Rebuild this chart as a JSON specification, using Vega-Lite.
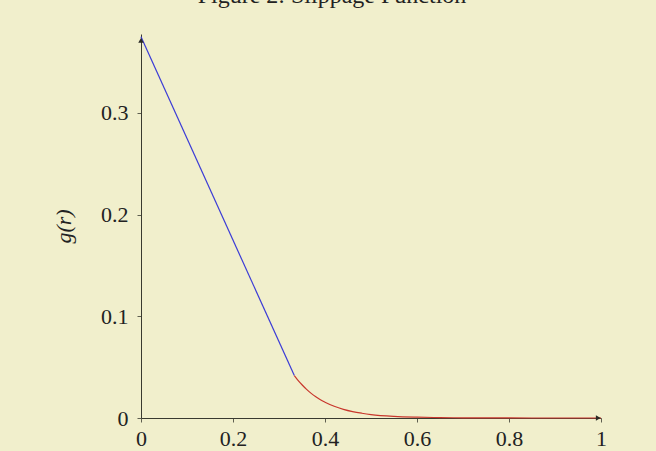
{
  "$schema": "https://vega.github.io/schema/vega-lite/v6.json",
  "width": 460,
  "height": 384,
  "autosize": {"type": "none"},
  "padding": {"left": 141, "top": 34, "right": 55, "bottom": 33},
  "background": "#f1efcc",
  "title": {
    "text": "Figure 2: Slippage Function",
    "font": "Liberation Serif",
    "fontSize": 24,
    "fontWeight": "normal",
    "color": "#222222",
    "anchor": "middle",
    "dx": -39,
    "offset": 7,
    "baseline": "alphabetic",
    "frame": "group"
  },
  "config": {
    "view": {"stroke": null},
    "axis": {
      "grid": false,
      "domainColor": "#3a3a30",
      "tickColor": "#3a3a30",
      "domainWidth": 1,
      "tickWidth": 0.8,
      "tickSize": 4,
      "labelFlush": false,
      "labelFont": "Liberation Serif",
      "labelFontSize": 22,
      "labelColor": "#222222",
      "titleFont": "Liberation Serif",
      "titleFontSize": 22,
      "titleFontWeight": "normal",
      "titleColor": "#222222"
    }
  },
  "layer": [
    {
      "data": {
        "values": [
          {"r": 0, "g": 0.375, "part": "linear"},
          {"r": 0.3333, "g": 0.0417, "part": "linear"},
          {"r": 0.3333, "g": 0.0417, "part": "exp"},
          {"r": 0.34, "g": 0.0378, "part": "exp"},
          {"r": 0.35, "g": 0.0327, "part": "exp"},
          {"r": 0.36, "g": 0.0281, "part": "exp"},
          {"r": 0.37, "g": 0.0242, "part": "exp"},
          {"r": 0.38, "g": 0.0209, "part": "exp"},
          {"r": 0.39, "g": 0.0179, "part": "exp"},
          {"r": 0.40, "g": 0.0155, "part": "exp"},
          {"r": 0.42, "g": 0.0115, "part": "exp"},
          {"r": 0.44, "g": 0.0085, "part": "exp"},
          {"r": 0.46, "g": 0.0063, "part": "exp"},
          {"r": 0.48, "g": 0.0047, "part": "exp"},
          {"r": 0.50, "g": 0.0034, "part": "exp"},
          {"r": 0.55, "g": 0.0016, "part": "exp"},
          {"r": 0.60, "g": 0.0008, "part": "exp"},
          {"r": 0.65, "g": 0.0004, "part": "exp"},
          {"r": 0.70, "g": 0.0002, "part": "exp"},
          {"r": 0.80, "g": 0.00004, "part": "exp"},
          {"r": 0.90, "g": 0.00001, "part": "exp"},
          {"r": 1.0, "g": 0, "part": "exp"}
        ]
      },
      "mark": {"type": "line", "strokeWidth": 1.2, "interpolate": "monotone"},
      "encoding": {
        "x": {
          "field": "r",
          "type": "quantitative",
          "scale": {"domain": [0, 1], "nice": false},
          "axis": {"values": [0, 0.2, 0.4, 0.6, 0.8, 1], "format": "~g", "title": null, "labelPadding": 6}
        },
        "y": {
          "field": "g",
          "type": "quantitative",
          "scale": {"domain": [0, 0.3777], "nice": false},
          "axis": {"values": [0, 0.1, 0.2, 0.3], "format": "~g", "title": "g(r)", "titleFontStyle": "italic", "labelPadding": 9, "titlePadding": 25}
        },
        "color": {
          "field": "part",
          "type": "nominal",
          "scale": {"domain": ["linear", "exp"], "range": ["#3b3bd6", "#c8372d"]},
          "legend": null
        },
        "order": {"field": "r", "type": "quantitative"}
      }
    },
    {
      "data": {
        "values": [
          {"r": 0, "g": 0.3715, "shape": "up"},
          {"r": 0.994, "g": 0, "shape": "right"}
        ]
      },
      "mark": {"type": "point", "filled": true, "size": 30, "opacity": 1, "color": "#2a2a25"},
      "encoding": {
        "x": {"field": "r", "type": "quantitative"},
        "y": {"field": "g", "type": "quantitative"},
        "shape": {
          "field": "shape",
          "type": "nominal",
          "scale": {"domain": ["up", "right"], "range": ["triangle-up", "triangle-right"]},
          "legend": null
        }
      }
    }
  ]
}
